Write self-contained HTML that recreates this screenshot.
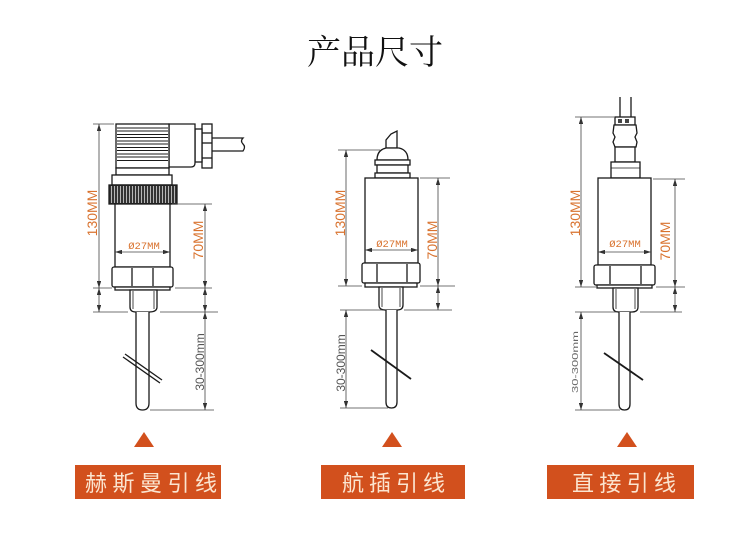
<!DOCTYPE html>
<html><head><meta charset="utf-8"><style>
html,body{margin:0;padding:0;background:#fff;}
svg{display:block;}
</style></head><body>
<svg width="750" height="536" viewBox="0 0 750 536" xmlns="http://www.w3.org/2000/svg">
<defs>
<marker id="ar" viewBox="0 0 7 4.4" refX="7" refY="2.2" markerWidth="7" markerHeight="4.4" markerUnits="userSpaceOnUse" orient="auto-start-reverse">
<path d="M0,0 L7,2.2 L0,4.4 z" fill="#333"/>
</marker>
</defs>
<rect width="750" height="536" fill="#fff"/>
<text x="375" y="64" text-anchor="middle" font-family="'Liberation Serif','Noto Serif CJK SC',serif" font-size="34" fill="#111">产品尺寸</text>

<!-- ============ Drawing 1 ============ -->
<g stroke="#1a1a1a" stroke-width="1.3" fill="#fff">
  <path d="M212,138 L243,138 q-3,3 0,6 q3,3 0,7 L212,151" fill="#fff"/>
  <rect x="202" y="124" width="10" height="44"/>
  <line x1="202" y1="133" x2="212" y2="133"/>
  <line x1="202" y1="143" x2="212" y2="143"/>
  <line x1="202" y1="158" x2="212" y2="158"/>
  <rect x="195" y="129" width="7" height="33"/>
  <path d="M169,124 L195,124 L195,163 Q195,167 191,167 L169,167 Z"/>
  <rect x="116" y="124" width="53" height="44"/>
  <g stroke-width="1">
  <line x1="117" y1="128" x2="168" y2="128"/><line x1="117" y1="131" x2="168" y2="131"/>
  <line x1="117" y1="134.5" x2="168" y2="134.5"/><line x1="117" y1="137.5" x2="168" y2="137.5"/>
  <line x1="117" y1="141" x2="168" y2="141"/><line x1="117" y1="144" x2="168" y2="144"/>
  <line x1="117" y1="147.5" x2="168" y2="147.5"/><line x1="117" y1="150.5" x2="168" y2="150.5"/>
  <line x1="117" y1="154" x2="168" y2="154"/><line x1="117" y1="157" x2="168" y2="157"/>
  <line x1="117" y1="160.5" x2="168" y2="160.5"/>
  </g>
  <rect x="116" y="168" width="53" height="7"/>
  <rect x="112" y="175" width="60" height="10"/>
  <rect x="109" y="185" width="68" height="19" fill="#333"/>
  <g stroke="#eee" stroke-width="0.7">
  <line x1="111.5" y1="186" x2="111.5" y2="203"/><line x1="114.5" y1="186" x2="114.5" y2="203"/>
  <line x1="117.5" y1="186" x2="117.5" y2="203"/><line x1="120.5" y1="186" x2="120.5" y2="203"/>
  <line x1="123.5" y1="186" x2="123.5" y2="203"/><line x1="126.5" y1="186" x2="126.5" y2="203"/>
  <line x1="129.5" y1="186" x2="129.5" y2="203"/><line x1="132.5" y1="186" x2="132.5" y2="203"/>
  <line x1="135.5" y1="186" x2="135.5" y2="203"/><line x1="138.5" y1="186" x2="138.5" y2="203"/>
  <line x1="141.5" y1="186" x2="141.5" y2="203"/><line x1="144.5" y1="186" x2="144.5" y2="203"/>
  <line x1="147.5" y1="186" x2="147.5" y2="203"/><line x1="150.5" y1="186" x2="150.5" y2="203"/>
  <line x1="153.5" y1="186" x2="153.5" y2="203"/><line x1="156.5" y1="186" x2="156.5" y2="203"/>
  <line x1="159.5" y1="186" x2="159.5" y2="203"/><line x1="162.5" y1="186" x2="162.5" y2="203"/>
  <line x1="165.5" y1="186" x2="165.5" y2="203"/><line x1="168.5" y1="186" x2="168.5" y2="203"/>
  <line x1="171.5" y1="186" x2="171.5" y2="203"/><line x1="174.5" y1="186" x2="174.5" y2="203"/>
  </g>
  <rect x="115" y="204" width="55" height="63"/>
  <rect x="112" y="267" width="61" height="20" rx="2"/>
  <line x1="132" y1="268" x2="132" y2="286"/>
  <line x1="153" y1="268" x2="153" y2="286"/>
  <rect x="115" y="287" width="55" height="3"/>
  <path d="M130,290 L130,307 Q130,312 136,312 L149,312 Q157,312 157,307 L157,290 Z"/>
  <line x1="133" y1="291" x2="133" y2="309" stroke-width="0.8"/>
  <line x1="154" y1="291" x2="154" y2="309" stroke-width="0.8"/>
  <path d="M136,312 L136,403 Q136,410 142.5,410 Q149,410 149,403 L149,312"/>
  <line x1="123" y1="357" x2="160" y2="383"/>
  <line x1="125" y1="354" x2="162" y2="380"/>
</g>
<g stroke="#444" stroke-width="0.8" fill="none">
  <line x1="93" y1="124" x2="114" y2="124"/>
  <line x1="93" y1="288" x2="112" y2="288"/>
  <line x1="93" y1="312" x2="128" y2="312"/>
  <line x1="99" y1="124" x2="99" y2="288" marker-start="url(#ar)" marker-end="url(#ar)"/>
  <line x1="99" y1="288" x2="99" y2="312" marker-start="url(#ar)" marker-end="url(#ar)"/>
  <line x1="172" y1="204" x2="212" y2="204"/>
  <line x1="175" y1="288" x2="212" y2="288"/>
  <line x1="160" y1="312" x2="218" y2="312"/>
  <line x1="150" y1="410" x2="214" y2="410"/>
  <line x1="205" y1="204" x2="205" y2="288" marker-start="url(#ar)" marker-end="url(#ar)"/>
  <line x1="205" y1="288" x2="205" y2="312" marker-start="url(#ar)" marker-end="url(#ar)"/>
  <line x1="205" y1="312" x2="205" y2="410" marker-start="url(#ar)" marker-end="url(#ar)"/>
  <line x1="115" y1="252" x2="170" y2="252" marker-start="url(#ar)" marker-end="url(#ar)"/>
</g>
<g font-family="'Liberation Sans',sans-serif" fill="#d9732f">
  <text transform="translate(97,213) rotate(-90)" text-anchor="middle" font-size="14">130MM</text>
  <text transform="translate(203,240) rotate(-90)" text-anchor="middle" font-size="14">70MM</text>
  <text x="144" y="249" text-anchor="middle" font-family="'Liberation Mono',monospace" font-size="10.5">Ø27MM</text>
  <text transform="translate(204,362) rotate(-90)" text-anchor="middle" font-size="12" fill="#555">30-300mm</text>
</g>

<!-- ============ Drawing 2 ============ -->
<g stroke="#1a1a1a" stroke-width="1.3" fill="#fff">
  <path d="M386,148 L386,140 L391,134 L397,131 L397,148 Z"/>
  <path d="M377,160 Q377,150 386,148 L399,148 Q408,150 408,160 Z"/>
  <rect x="375" y="160" width="35" height="5"/>
  <rect x="377" y="165" width="31" height="8"/>
  <rect x="375" y="173" width="35" height="5"/>
  <rect x="365" y="178" width="53" height="85"/>
  <rect x="362" y="263" width="58" height="20" rx="2"/>
  <line x1="377" y1="264" x2="377" y2="282"/>
  <line x1="407" y1="264" x2="407" y2="282"/>
  <rect x="365" y="283" width="52" height="4"/>
  <path d="M379,287 L379,305 Q379,310 385,310 L397,310 Q403,310 403,305 L403,287 Z"/>
  <line x1="382" y1="288" x2="382" y2="307" stroke-width="0.8"/>
  <line x1="400" y1="288" x2="400" y2="307" stroke-width="0.8"/>
  <path d="M386,310 L386,402 Q386,408 391.5,408 Q397,408 397,402 L397,310"/>
  <line x1="371" y1="350" x2="411" y2="379" stroke-width="1.8"/>
</g>
<g stroke="#444" stroke-width="0.8" fill="none">
  <line x1="338" y1="150" x2="380" y2="150"/>
  <line x1="338" y1="286" x2="362" y2="286"/>
  <line x1="340" y1="310" x2="384" y2="310"/>
  <line x1="340" y1="408" x2="388" y2="408"/>
  <line x1="346" y1="150" x2="346" y2="286" marker-start="url(#ar)" marker-end="url(#ar)"/>
  <line x1="346" y1="310" x2="346" y2="408" marker-start="url(#ar)" marker-end="url(#ar)"/>
  <line x1="420" y1="178" x2="450" y2="178"/>
  <line x1="420" y1="286" x2="455" y2="286"/>
  <line x1="404" y1="310" x2="452" y2="310"/>
  <line x1="438" y1="178" x2="438" y2="286" marker-start="url(#ar)" marker-end="url(#ar)"/>
  <line x1="438" y1="286" x2="438" y2="310" marker-start="url(#ar)" marker-end="url(#ar)"/>
  <line x1="365" y1="250" x2="418" y2="250" marker-start="url(#ar)" marker-end="url(#ar)"/>
</g>
<g font-family="'Liberation Sans',sans-serif" fill="#d9732f">
  <text transform="translate(345,213) rotate(-90)" text-anchor="middle" font-size="14">130MM</text>
  <text transform="translate(437,240) rotate(-90)" text-anchor="middle" font-size="14">70MM</text>
  <text x="392" y="247" text-anchor="middle" font-family="'Liberation Mono',monospace" font-size="10.5">Ø27MM</text>
  <text transform="translate(345,363) rotate(-90)" text-anchor="middle" font-size="12" fill="#555">30-300mm</text>
</g>

<!-- ============ Drawing 3 ============ -->
<g stroke="#1a1a1a" stroke-width="1.3" fill="#fff">
  <line x1="620" y1="97" x2="620" y2="117"/>
  <line x1="631" y1="97" x2="631" y2="117"/>
  <rect x="615" y="117" width="20" height="8"/>
  <rect x="618" y="119" width="4" height="4" fill="#444" stroke="none"/>
  <rect x="625" y="119" width="4" height="4" fill="#444" stroke="none"/>
  <path d="M614,125 L636,125 L637,133 L635,137 L637,142 L636,147 L615,147 L613,142 L615,137 L613,133 Z"/>
  <rect x="615" y="147" width="20" height="15"/>
  <rect x="611" y="162" width="29" height="16"/>
  <line x1="611" y1="168" x2="640" y2="168" stroke-width="0.8"/>
  <rect x="598" y="178" width="53" height="87"/>
  <rect x="594" y="265" width="61" height="20" rx="2"/>
  <line x1="610" y1="266" x2="610" y2="284"/>
  <line x1="641" y1="266" x2="641" y2="284"/>
  <rect x="597" y="285" width="55" height="3"/>
  <path d="M613,288 L613,307 Q613,312 619,312 L632,312 Q638,312 638,307 L638,288 Z"/>
  <line x1="616" y1="289" x2="616" y2="309" stroke-width="0.8"/>
  <line x1="635" y1="289" x2="635" y2="309" stroke-width="0.8"/>
  <path d="M619,312 L619,404 Q619,410 624.5,410 Q630,410 630,404 L630,312"/>
  <line x1="604" y1="353" x2="643" y2="380" stroke-width="1.8"/>
</g>
<g stroke="#444" stroke-width="0.8" fill="none">
  <line x1="575" y1="117" x2="614" y2="117"/>
  <line x1="575" y1="287" x2="596" y2="287"/>
  <line x1="575" y1="312" x2="617" y2="312"/>
  <line x1="575" y1="410" x2="620" y2="410"/>
  <line x1="581" y1="117" x2="581" y2="287" marker-start="url(#ar)" marker-end="url(#ar)"/>
  <line x1="581" y1="312" x2="581" y2="410" marker-start="url(#ar)" marker-end="url(#ar)"/>
  <line x1="653" y1="179" x2="685" y2="179"/>
  <line x1="656" y1="287" x2="685" y2="287"/>
  <line x1="640" y1="312" x2="682" y2="312"/>
  <line x1="675" y1="179" x2="675" y2="287" marker-start="url(#ar)" marker-end="url(#ar)"/>
  <line x1="675" y1="287" x2="675" y2="312" marker-start="url(#ar)" marker-end="url(#ar)"/>
  <line x1="598" y1="252" x2="651" y2="252" marker-start="url(#ar)" marker-end="url(#ar)"/>
</g>
<g font-family="'Liberation Sans',sans-serif" fill="#d9732f">
  <text transform="translate(580,213) rotate(-90)" text-anchor="middle" font-size="14">130MM</text>
  <text transform="translate(670,241) rotate(-90)" text-anchor="middle" font-size="14">70MM</text>
  <text x="625" y="247" text-anchor="middle" font-family="'Liberation Mono',monospace" font-size="10.5">Ø27MM</text>
  <text transform="translate(578,362) rotate(-90)" text-anchor="middle" font-size="8" fill="#666" textLength="62" lengthAdjust="spacingAndGlyphs">30-300mm</text>
</g>

<g fill="#d2501d">
  <polygon points="144,432 134,447 154,447"/>
  <polygon points="392,432 382,447 402,447"/>
  <polygon points="627,432 617,447 637,447"/>
</g>
<g fill="#d2501d">
  <rect x="75" y="465" width="146" height="34"/>
  <rect x="321" y="465" width="144" height="34"/>
  <rect x="547" y="465" width="147" height="34"/>
</g>
<g font-family="'Liberation Sans','Noto Sans CJK SC',sans-serif" font-size="22" fill="#fbe5d0">
  <text x="85" y="491" textLength="132" lengthAdjust="spacing">赫斯曼引线</text>
  <text x="342" y="491" textLength="103" lengthAdjust="spacing">航插引线</text>
  <text x="572" y="491" textLength="104" lengthAdjust="spacing">直接引线</text>
</g>
</svg>
</body></html>
